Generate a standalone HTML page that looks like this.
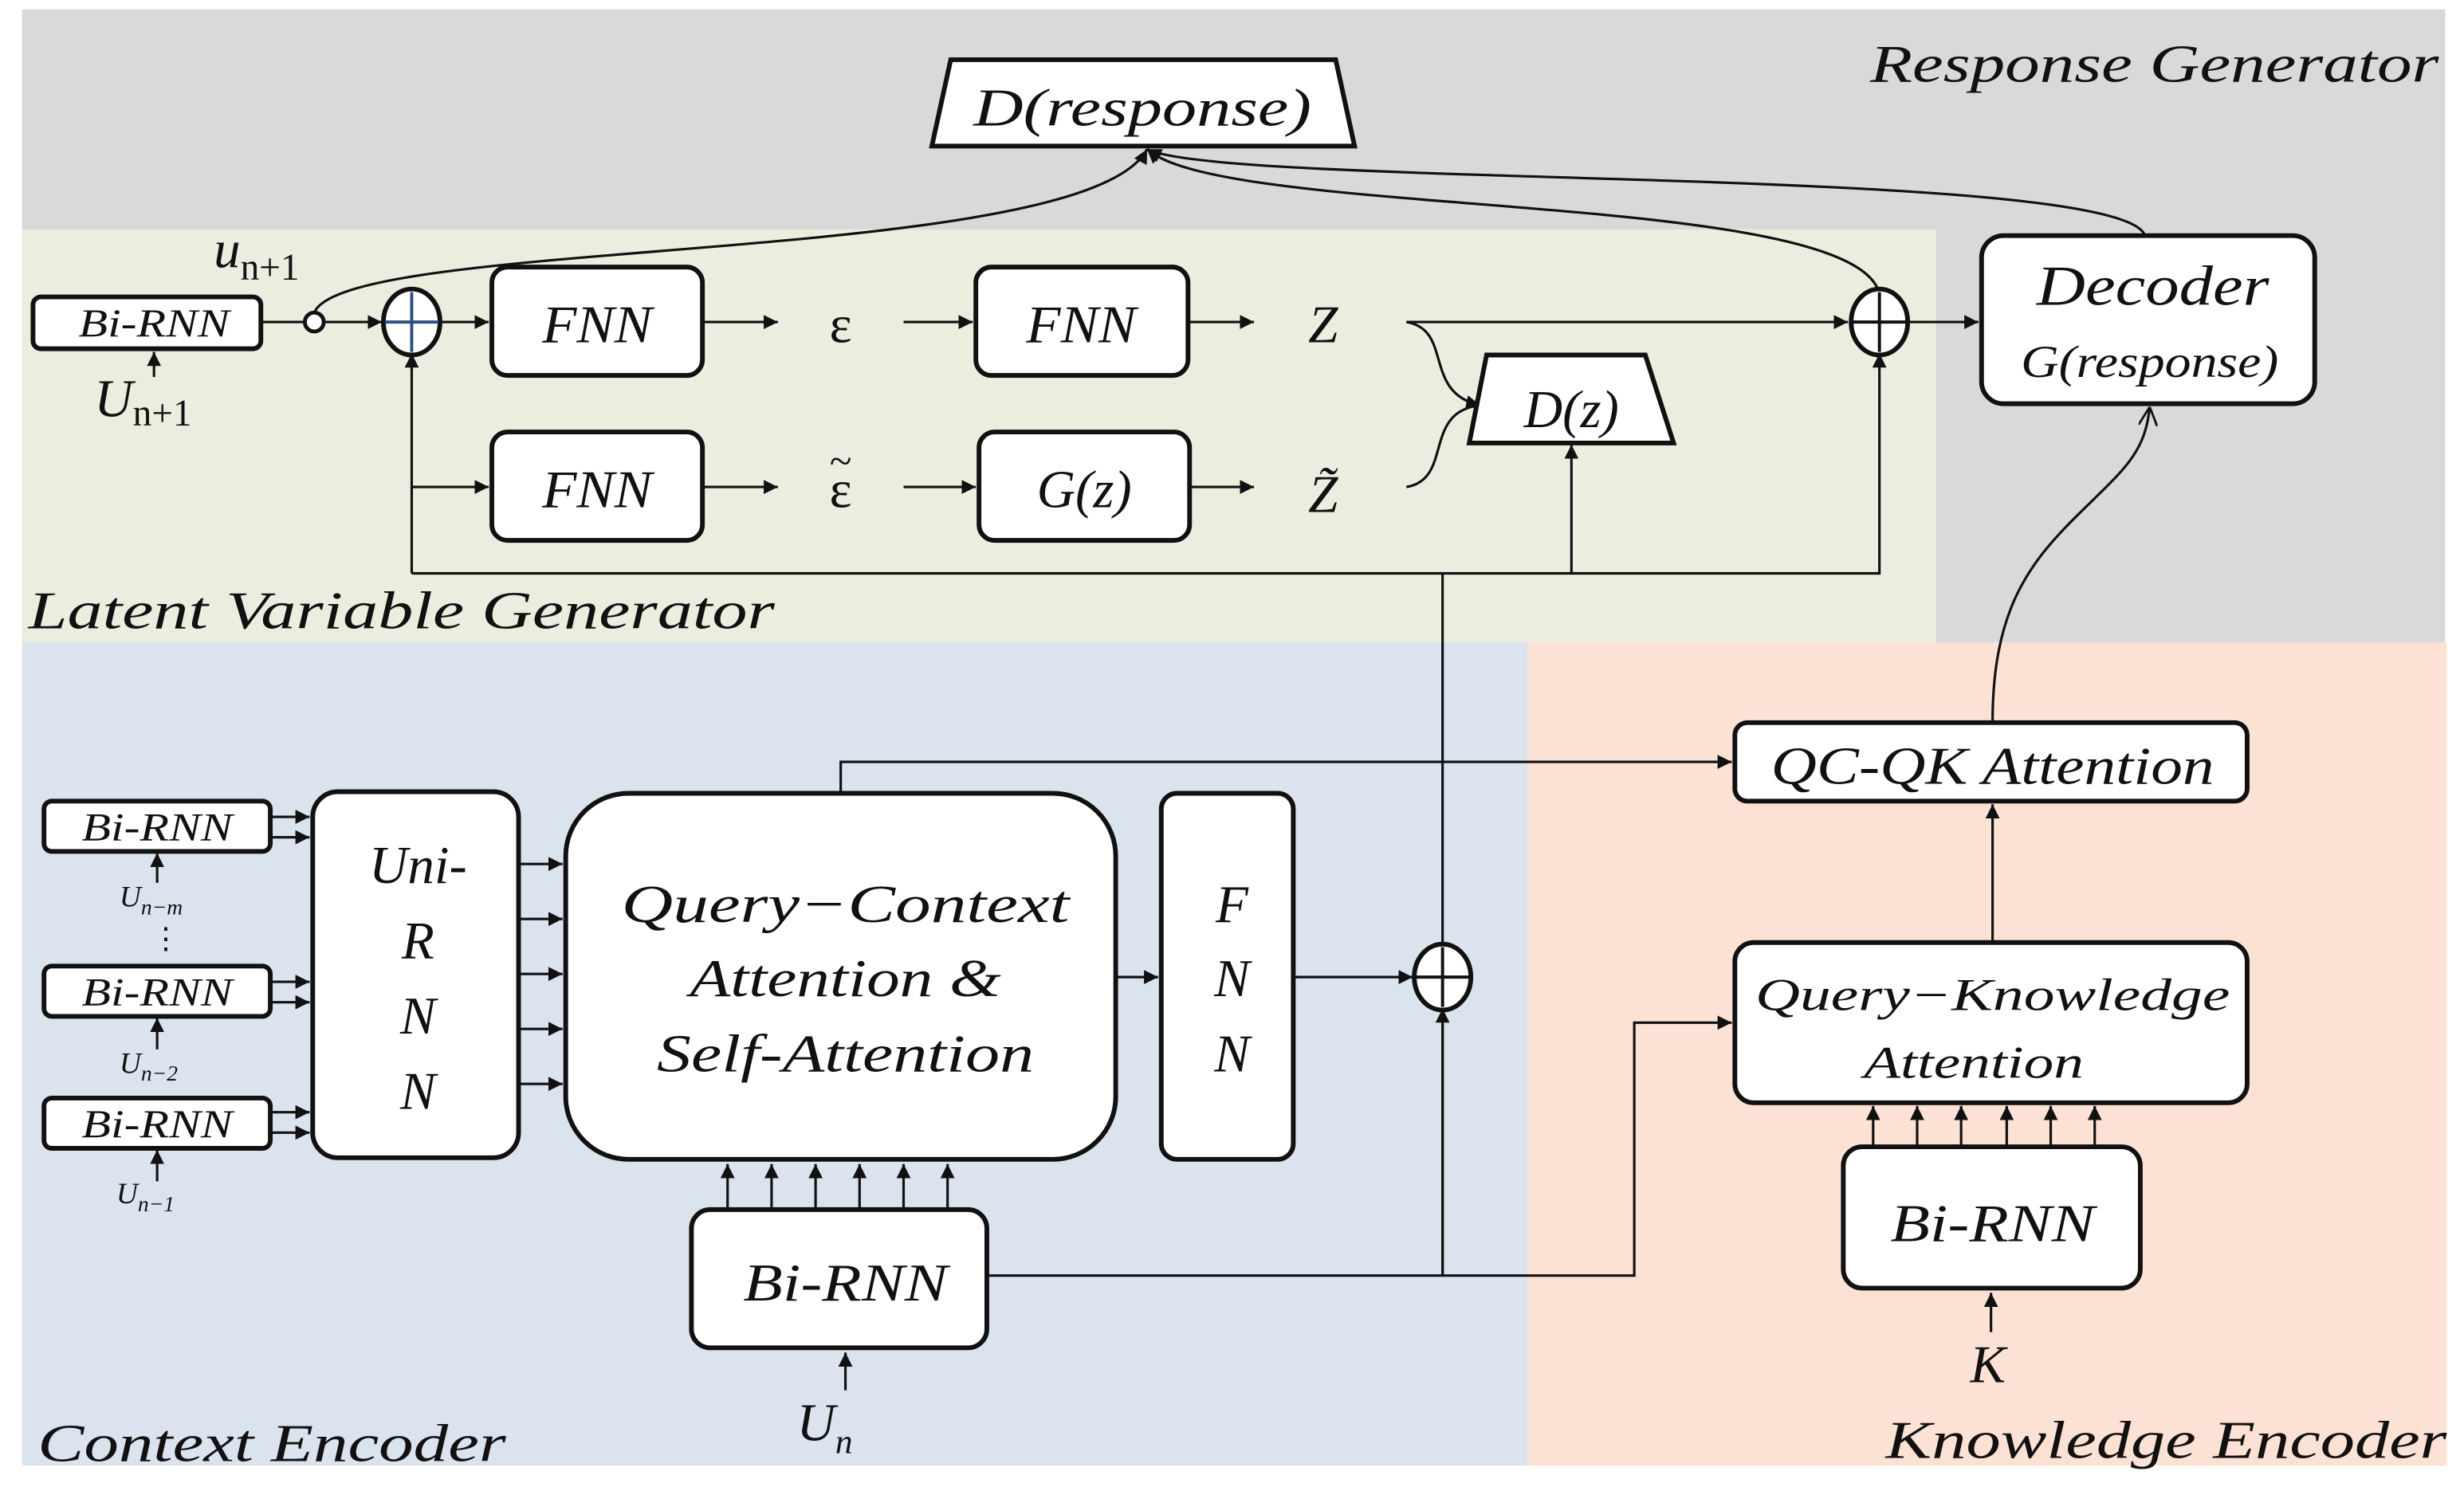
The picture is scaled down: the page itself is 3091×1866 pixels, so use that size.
<!DOCTYPE html>
<html><head><meta charset="utf-8"><style>
html,body{margin:0;padding:0;background:#fff;}
svg{display:block;}
text{font-family:"Liberation Serif",serif;font-style:italic;fill:#111;}
</style></head><body>
<svg width="3091" height="1866" viewBox="0 0 1568 946.6" preserveAspectRatio="none" xmlns="http://www.w3.org/2000/svg">
<defs>
<marker id="a" viewBox="0 0 10 10" refX="10" refY="5" markerWidth="9" markerHeight="9" markerUnits="userSpaceOnUse" orient="auto"><path d="M0,0 L10,5 L0,10 z" fill="#111"/></marker>
<marker id="o" viewBox="0 0 10 10" refX="10" refY="5" markerWidth="12" markerHeight="12" markerUnits="userSpaceOnUse" orient="auto"><path d="M0,0 L10,5 L0,10" fill="none" stroke="#111" stroke-width="1.2"/></marker>
</defs>
<rect x="14" y="6" width="1542" height="403" fill="#d9d9d9"/>
<rect x="14" y="146" width="1218" height="263" fill="#ebeedf"/>
<rect x="14" y="409" width="958" height="524" fill="#dbe3ef"/>
<rect x="972" y="409" width="585" height="524" fill="#fce1d5"/>

<g stroke="#111" fill="none" stroke-width="1.6">
<path d="M166,205 H194"/>
<path d="M206,205 H243" marker-end="url(#a)"/>
<path d="M280,205 H311" marker-end="url(#a)"/>
<path d="M447,205 H495" marker-end="url(#a)"/>
<path d="M575,205 H619" marker-end="url(#a)"/>
<path d="M756,205 H798" marker-end="url(#a)"/>
<path d="M262,310 H311" marker-end="url(#a)"/>
<path d="M447,310 H495" marker-end="url(#a)"/>
<path d="M575,310 H621" marker-end="url(#a)"/>
<path d="M757,310 H798" marker-end="url(#a)"/>
<path d="M262,365 V225" marker-end="url(#a)"/>
<path d="M262,365 H1196 V225" marker-end="url(#a)"/>
<path d="M1000,365 V283" marker-end="url(#a)"/>
<path d="M895,205 H1176" marker-end="url(#a)"/>
<path d="M1215,205 H1259" marker-end="url(#a)"/>
<path d="M895,205 C925,210 905,250 942,258" marker-end="url(#a)"/>
<path d="M895,310 C925,305 905,262 942,258"/>
<path d="M98,240 V224" marker-end="url(#a)"/>
<path d="M200,199 C220,150 690,170 730,95" marker-end="url(#a)"/>
<path d="M1196,187 C1180,120 780,140 730,95" marker-end="url(#a)"/>
<path d="M1365,150 C1350,105 780,120 730,95" marker-end="url(#a)"/>
<path d="M918,365 V812"/>
<path d="M918,812 V642" marker-end="url(#a)"/>
<path d="M628,812 H1040 V651 H1102" marker-end="url(#a)"/>
<path d="M535,505 V485 H1102" marker-end="url(#a)"/>
<path d="M1268,600 V512" marker-end="url(#a)"/>
<path d="M1268,460 C1268,390 1290,360 1320,330 C1350,300 1365,290 1368,259" marker-end="url(#o)"/>
<path d="M710,622 H737" marker-end="url(#a)"/>
<path d="M823,622 H899" marker-end="url(#a)"/>
<path d="M330,550 H358" marker-end="url(#a)"/>
<path d="M330,585 H358" marker-end="url(#a)"/>
<path d="M330,620 H358" marker-end="url(#a)"/>
<path d="M330,655 H358" marker-end="url(#a)"/>
<path d="M330,690 H358" marker-end="url(#a)"/>
<path d="M172,520 H197" marker-end="url(#a)"/><path d="M172,533 H197" marker-end="url(#a)"/>
<path d="M172,625 H197" marker-end="url(#a)"/><path d="M172,638 H197" marker-end="url(#a)"/>
<path d="M172,708 H197" marker-end="url(#a)"/><path d="M172,721 H197" marker-end="url(#a)"/>
<path d="M100,562 V543" marker-end="url(#a)"/>
<path d="M100,668 V648" marker-end="url(#a)"/>
<path d="M100,752 V732" marker-end="url(#a)"/>
<path d="M463,770 V741" marker-end="url(#a)"/><path d="M491,770 V741" marker-end="url(#a)"/><path d="M519,770 V741" marker-end="url(#a)"/><path d="M547,770 V741" marker-end="url(#a)"/><path d="M575,770 V741" marker-end="url(#a)"/><path d="M603,770 V741" marker-end="url(#a)"/>
<path d="M538,885 V861" marker-end="url(#a)"/>
<path d="M1192,730 V704" marker-end="url(#a)"/><path d="M1220,730 V704" marker-end="url(#a)"/><path d="M1248,730 V704" marker-end="url(#a)"/><path d="M1277,730 V704" marker-end="url(#a)"/><path d="M1305,730 V704" marker-end="url(#a)"/><path d="M1333,730 V704" marker-end="url(#a)"/>
<path d="M1267,848 V823" marker-end="url(#a)"/>
</g>

<g stroke="#111" stroke-width="3" fill="#fff">
<path d="M605,38 H850 L862,93 H593 Z"/>
<path d="M946,226 H1047 L1065,282 H935 Z"/>
<rect x="21" y="189" width="145" height="33" rx="5"/>
<circle cx="200" cy="205" r="6" stroke-width="2.5"/>
<ellipse cx="262" cy="205" rx="18" ry="21"/>
<ellipse cx="1196" cy="205" rx="18" ry="21"/>
<ellipse cx="918" cy="622" rx="18" ry="21"/>
<rect x="313" y="170" width="134" height="69" rx="10"/>
<rect x="621" y="170" width="135" height="69" rx="10"/>
<rect x="313" y="275" width="134" height="69" rx="10"/>
<rect x="623" y="275" width="134" height="69" rx="10"/>
<rect x="1261" y="150" width="212" height="107" rx="14"/>
<rect x="28" y="510" width="144" height="32" rx="5"/>
<rect x="28" y="615" width="144" height="32" rx="5"/>
<rect x="28" y="699" width="144" height="32" rx="5"/>
<rect x="199" y="504" width="131" height="233" rx="16"/>
<rect x="360" y="505" width="350" height="233" rx="40"/>
<rect x="739" y="505" width="84" height="233" rx="10"/>
<rect x="440" y="770" width="188" height="88" rx="12"/>
<rect x="1104" y="460" width="326" height="50" rx="8"/>
<rect x="1104" y="600" width="326" height="102" rx="12"/>
<rect x="1173" y="730" width="189" height="90" rx="12"/>
</g>
<g stroke="#2f4f80" stroke-width="2"><path d="M262,186 V224 M245,205 H279"/></g>
<g stroke="#111" stroke-width="2"><path d="M1196,186 V224 M1179,205 H1213 M918,603 V641 M901,622 H935"/></g>

<g font-size="34">
<text x="1552" y="52" text-anchor="end" textLength="362" lengthAdjust="spacingAndGlyphs">Response Generator</text>
<text x="727" y="80" text-anchor="middle" textLength="215" lengthAdjust="spacingAndGlyphs">D(response)</text>
<text x="18" y="400" textLength="475" lengthAdjust="spacingAndGlyphs">Latent Variable Generator</text>
<text x="24" y="930" textLength="298" lengthAdjust="spacingAndGlyphs">Context Encoder</text>
<text x="1557" y="928" text-anchor="end" textLength="357" lengthAdjust="spacingAndGlyphs">Knowledge Encoder</text>
<text x="380" y="218" text-anchor="middle" textLength="70" lengthAdjust="spacingAndGlyphs">FNN</text>
<text x="688" y="218" text-anchor="middle" textLength="70" lengthAdjust="spacingAndGlyphs">FNN</text>
<text x="380" y="323" text-anchor="middle" textLength="70" lengthAdjust="spacingAndGlyphs">FNN</text>
<text x="690" y="323" text-anchor="middle">G(z)</text>
<text x="1000" y="272" text-anchor="middle">D(z)</text>
<text x="535" y="218" text-anchor="middle" style="font-style:normal">ε</text>
<text x="535" y="323" text-anchor="middle" style="font-style:normal">ε</text>
<text x="535" y="302" text-anchor="middle" font-size="26" style="font-style:normal">~</text>
<text x="842" y="218" text-anchor="middle">Z</text>
<text x="842" y="326" text-anchor="middle">Z̃</text>
<text x="1370" y="194" text-anchor="middle" font-size="36" textLength="148" lengthAdjust="spacingAndGlyphs">Decoder</text>
<text x="266" y="562" text-anchor="middle">Uni-</text>
<text x="266" y="610" text-anchor="middle">R</text>
<text x="266" y="658" text-anchor="middle">N</text>
<text x="266" y="706" text-anchor="middle">N</text>
<text x="538" y="587" text-anchor="middle" textLength="285" lengthAdjust="spacingAndGlyphs">Query−Context</text>
<text x="538" y="634" text-anchor="middle" textLength="198" lengthAdjust="spacingAndGlyphs">Attention &amp;</text>
<text x="538" y="682" text-anchor="middle" textLength="240" lengthAdjust="spacingAndGlyphs">Self-Attention</text>
<text x="784" y="587" text-anchor="middle">F</text>
<text x="784" y="634" text-anchor="middle">N</text>
<text x="784" y="682" text-anchor="middle">N</text>
<text x="538" y="828" text-anchor="middle" textLength="130" lengthAdjust="spacingAndGlyphs">Bi-RNN</text>
<text x="1268" y="790" text-anchor="middle" textLength="130" lengthAdjust="spacingAndGlyphs">Bi-RNN</text>
<text x="1268" y="499" text-anchor="middle" textLength="282" lengthAdjust="spacingAndGlyphs">QC-QK Attention</text>
<text x="1265" y="880" text-anchor="middle">K</text>
<text x="507" y="917">U<tspan font-size="22" dy="8">n</tspan></text>
<text x="60" y="265">U<tspan font-size="24" dy="6" style="font-style:normal">n+1</tspan></text>
<text x="136" y="170">u<tspan font-size="24" dy="8" style="font-style:normal">n+1</tspan></text>
</g>
<g font-size="29">
<text x="1268" y="643" text-anchor="middle" textLength="302" lengthAdjust="spacingAndGlyphs">Query−Knowledge</text>
<text x="1256" y="686" text-anchor="middle" textLength="140" lengthAdjust="spacingAndGlyphs">Attention</text>
<text x="1368" y="240" text-anchor="middle" textLength="164" lengthAdjust="spacingAndGlyphs">G(response)</text>
</g>
<g font-size="25">
<text x="100" y="535" text-anchor="middle" textLength="96" lengthAdjust="spacingAndGlyphs">Bi-RNN</text>
<text x="100" y="640" text-anchor="middle" textLength="96" lengthAdjust="spacingAndGlyphs">Bi-RNN</text>
<text x="100" y="724" text-anchor="middle" textLength="96" lengthAdjust="spacingAndGlyphs">Bi-RNN</text>
<text x="98" y="214" text-anchor="middle" textLength="96" lengthAdjust="spacingAndGlyphs">Bi-RNN</text>
</g>
<g font-size="19" fill="#333">
<text x="76" y="577">U<tspan font-size="14" dy="5">n−m</tspan></text>
<text x="96" y="604" style="font-style:normal">⋮</text>
<text x="76" y="683">U<tspan font-size="14" dy="5">n−2</tspan></text>
<text x="74" y="766">U<tspan font-size="14" dy="5">n−1</tspan></text>
</g>
</svg>
</body></html>
